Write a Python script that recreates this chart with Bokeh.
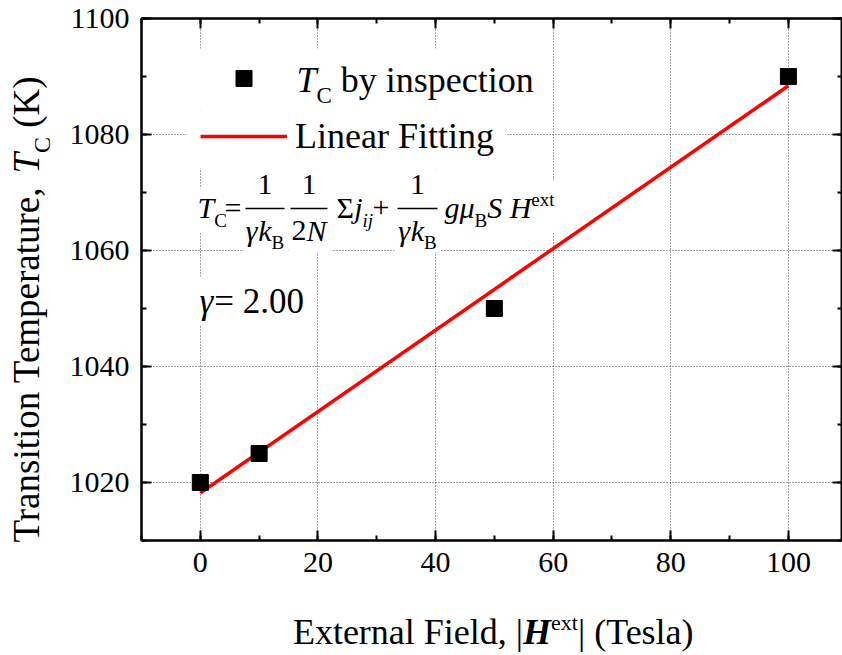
import numpy as np
from bokeh.plotting import figure
from bokeh.layouts import row, column
from bokeh.models import (Range1d, LinearAxis, SingleIntervalTicker, Label, Legend,
                          LegendItem, CustomJSTickFormatter, BoxAnnotation)
from bokeh.embed import file_html
from bokeh.resources import INLINE

# ---------------- data ----------------
field_tesla = [0, 10, 50, 100]
tc_kelvin = [1020, 1025, 1050, 1090]
fit_field = [0, 100]
fit_tc = [1018.2, 1088.4]
x_tick_step = 20
y_tick_step = 20
legend_fit_label = "Linear Fitting"
gamma_text = "= 2.00"

# ---------------- geometry ----------------
W, H = 842, 655
YW = 56            # strip for the y-axis title
XH = 55            # strip for the x-axis title
FL, FR, FT, FB = 141, 842, 18, 540
XMIN, XMAX = -10, 109.2
YMIN, YMAX = 1010, 1100
FONT = "Liberation Serif"
BASE_K = 0.33      # label anchor sits this many em above the alphabetic baseline

p = figure(width=W - YW, height=H - XH, x_range=Range1d(XMIN, XMAX),
           y_range=Range1d(YMIN, YMAX),
           output_backend="svg", toolbar_location=None,
           min_border_left=FL - YW, min_border_right=W - FR, min_border_top=FT,
           min_border_bottom=H - XH - FB)
p.background_fill_color = "white"
p.border_fill_color = "white"
p.outline_line_color = "black"
p.outline_line_width = 2


def strip(w, h):
    f = figure(width=w, height=h, x_range=Range1d(0, 1), y_range=Range1d(0, 1),
               output_backend="svg", toolbar_location=None,
               x_axis_type=None, y_axis_type=None,
               min_border=0, min_border_left=0, min_border_right=0,
               min_border_top=0, min_border_bottom=0)
    f.outline_line_color = None
    f.background_fill_color = "white"
    f.border_fill_color = "white"
    f.xgrid.visible = False
    f.ygrid.visible = False
    return f


ytitle_fig = strip(YW, H)
xtitle_fig = strip(W - YW, XH)


def style_axis(ax, interval, show):
    ax.ticker = SingleIntervalTicker(interval=interval, num_minor_ticks=2)
    ax.axis_line_width = 2
    ax.axis_line_color = "black"
    ax.major_tick_line_width = 2
    ax.minor_tick_line_width = 2
    ax.major_tick_line_color = "black"
    ax.minor_tick_line_color = "black"
    ax.major_tick_in = 10
    ax.major_tick_out = 0
    ax.minor_tick_in = 5
    ax.minor_tick_out = 0
    ax.major_label_text_font = FONT
    ax.major_label_text_color = "black"
    if show:
        ax.major_label_text_font_size = "30px"
        ax.major_label_standoff = 12
    else:
        ax.formatter = CustomJSTickFormatter(code="return ''")
        ax.major_label_text_font_size = "1px"
        ax.major_label_standoff = 0


style_axis(p.xaxis[0], x_tick_step, True)
style_axis(p.yaxis[0], y_tick_step, True)
top_ax = LinearAxis()
right_ax = LinearAxis()
style_axis(top_ax, x_tick_step, False)
style_axis(right_ax, y_tick_step, False)
p.add_layout(top_ax, "above")
p.add_layout(right_ax, "right")

for g in (p.xgrid[0], p.ygrid[0]):
    g.grid_line_color = "#444444"
    g.grid_line_width = 1
    g.grid_line_dash = "1 2"

ln = p.line(fit_field, fit_tc, line_color="red", line_width=3.5)
sq = p.scatter(field_tesla, tc_kelvin, marker="square", size=16, fill_color="black",
               line_color="black")

# ---------------- text helpers ----------------
REG = {' ': 250, '(': 333, ')': 333, ',': 250, '|': 200, '.': 250, '=': 564, '+': 564,
       'B': 667, 'C': 667, 'E': 611, 'F': 556, 'K': 722, 'L': 611, 'N': 722, 'T': 611,
       'S': 556, 'H': 722, 'a': 444, 'b': 500, 'c': 444, 'd': 500, 'e': 444, 'g': 500,
       'i': 278, 'j': 278, 'k': 500, 'l': 278, 'm': 778, 'n': 500, 'o': 500, 'p': 500,
       'r': 333, 's': 389, 't': 278, 'u': 500, 'x': 500, 'y': 500, 'Σ': 590}
ITA = {'T': 556, 'N': 667, 'S': 500, 'H': 722, 'g': 500, 'j': 278, 'i': 278, 'k': 444,
       'μ': 500, 'γ': 420}
BI = {'H': 778}


def tw(s, size, style):
    table = ITA if style == "italic" else (BI if style == "bold italic" else REG)
    return sum(table.get(c, REG.get(c, 500)) for c in s) * size / 1000.0


# each target: (figure, image x of its frame's left edge, image y of its frame's bottom)
# (the column aligns the x-title strip's frame with the main frame)
MAIN = (p, FL, FB)
XSTRIP = (xtitle_fig, FL, H)
YSTRIP = (ytitle_fig, 0, H)


def put(tgt, text, X, Y, size, style="normal", angle=0.0, align="left"):
    """(X, Y): image position of the alphabetic baseline start."""
    fig, ox, oy = tgt
    lift = BASE_K * size
    if angle:
        X -= lift
    else:
        Y -= lift
    fig.add_layout(Label(x=X - ox, y=oy - Y, x_units="screen", y_units="screen",
                         text=text, text_font=FONT,
                         text_font_size=f"{size}px", text_font_style=style,
                         text_align=align, text_baseline="alphabetic", angle=angle,
                         text_color="black"))


def split_lead(text, size, style):
    stripped = text.lstrip(" ")
    return stripped, tw(text[:len(text) - len(stripped)], size, style)


def chain(tgt, pieces, X, Y):
    """pieces: (text, size, style, baseline shift down in px)"""
    for text, size, style, shift in pieces:
        body, lead = split_lead(text, size, style)
        if body:
            put(tgt, body, X + lead, Y + shift, size, style)
        X += tw(text, size, style)


def chain_up(tgt, pieces, X, Y):
    for text, size, style, shift in pieces:
        body, lead = split_lead(text, size, style)
        if body:
            put(tgt, body, X + shift, Y - lead, size, style, angle=np.pi / 2)
        Y -= tw(text, size, style)


def box(x0, x1, y0, y1, color):
    p.add_layout(BoxAnnotation(left=x0 - FL, right=x1 - FL, top=FB - y0, bottom=FB - y1,
                               left_units="screen", right_units="screen",
                               top_units="screen", bottom_units="screen",
                               fill_color=color, fill_alpha=1.0, line_color=None))


# ---------------- white areas behind legend and formula ----------------
box(186, 545, 48, 110, "white")
box(186, 505, 110, 168, "white")
for bx in [(193, 243, 188, 232), (243, 287, 168, 252), (288, 331, 168, 252),
           (333, 394, 188, 232), (394, 440, 168, 252), (442, 558, 180, 232)]:
    box(*bx, "white")
box(192, 314, 276, 325, "white")

# ---------------- legend ----------------
legend = Legend(items=[LegendItem(label=" ", renderers=[sq]),
                       LegendItem(label=legend_fit_label, renderers=[ln])],
                location=(59, 383), orientation="vertical",
                glyph_width=87, glyph_height=40, label_height=40, label_standoff=8,
                spacing=17, padding=15, margin=0,
                border_line_color=None, background_fill_alpha=0.0,
                label_text_font=FONT, label_text_font_size="36px",
                label_text_color="black")
p.add_layout(legend)

chain(MAIN, [("T", 36, "italic", 0), ("C", 23, "normal", 12),
             (" by inspection", 36, "normal", 0)], 296, 91)

# ---------------- axis titles ----------------
xt = [("External Field, |", 36, "normal", 0), ("H", 36, "bold italic", 0),
      ("ext", 22, "normal", -14), ("| (Tesla)", 36, "normal", 0)]
xt_w = sum(tw(t, s, st) for t, s, st, _ in xt)
chain(XSTRIP, xt, 494 - xt_w / 2, 643)

yt = [("Transition Temperature, ", 37, "normal", 0), ("T", 37, "italic", 0),
      ("C", 24, "normal", 11), (" (K)", 37, "normal", 0)]
chain_up(YSTRIP, yt, 38, 542)

# ---------------- formula ----------------
FS, SS = 30, 19
chain(MAIN, [("T", FS, "italic", 0), ("C", SS, "normal", 9)], 197, 217)
put(MAIN, "=", 224, 217, FS)


def fraction(x0, x1, den):
    box(x0, x1, 207.2, 208.8, "black")
    put(MAIN, "1", (x0 + x1) / 2, 194, FS, align="center")
    dw = sum(tw(t, s, st) for t, s, st, _ in den)
    chain(MAIN, den, (x0 + x1) / 2 - dw / 2, 240)


gk = [("γ", FS, "italic", 0), ("k", FS, "italic", 0), ("B", SS, "normal", 8)]
fraction(245, 284, gk)
fraction(290, 327, [("2", FS, "normal", 0), ("N", FS, "italic", 0)])
chain(MAIN, [("Σ", FS, "normal", 0), ("j", FS, "italic", 0), ("ij", SS, "italic", 9)],
      336, 217)
put(MAIN, "+", 372, 217, FS)
fraction(397, 437, gk)
chain(MAIN, [("g", FS, "italic", 0), ("μ", FS, "italic", 0), ("B", SS, "normal", 9),
             ("S", FS, "italic", 0), (" ", FS, "normal", 0), ("H", FS, "italic", 0),
             ("ext", SS, "normal", -12)], 444, 217)

# gamma annotation
chain(MAIN, [("γ", 35, "italic", 0), (gamma_text, 35, "normal", 0)], 199, 313)

layout = row(ytitle_fig, column(p, xtitle_fig, spacing=0), spacing=0)
open("out.html", "w").write(file_html(layout, INLINE))
